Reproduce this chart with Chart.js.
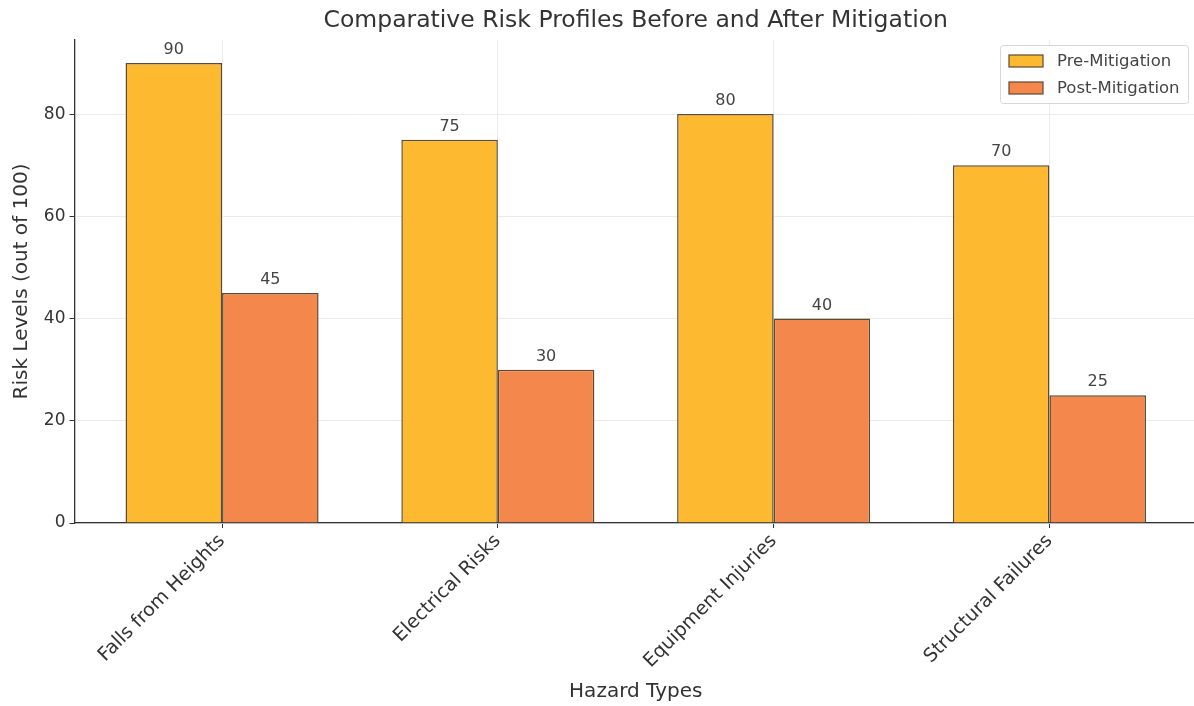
<!DOCTYPE html>
<html>
<head>
<meta charset="utf-8">
<title>Comparative Risk Profiles</title>
<script src="https://cdn.jsdelivr.net/npm/chart.js@4.4.1/dist/chart.umd.min.js"></script>
<style>
  html, body { margin: 0; padding: 0; background: #fff; overflow: hidden; }
  #caixaGrafico { position: relative; width: 1197px; height: 706px; }
</style>
</head>
<body>
<div id="caixaGrafico"><canvas id="graficoRiscos"></canvas></div>
<script>
//Hazard categories and risk values
const categorias = ['Falls from Heights', 'Electrical Risks', 'Equipment Injuries', 'Structural Failures'];
const preMitigacao = [90, 75, 80, 70];
const posMitigacao = [45, 30, 40, 25];
const ticksY = [0, 20, 40, 60, 80];
const tituloGrafico = 'Comparative Risk Profiles Before and After Mitigation';

Chart.defaults.font.family = "'DejaVu Sans', sans-serif";
Chart.defaults.color = '#333';

//Title centred over the plot area (not over the whole canvas)
const tituloCentrado = {
    id: 'tituloCentrado',
    afterDraw(chart) {
        const ctx = chart.ctx;
        const area = chart.chartArea;
        ctx.save();
        ctx.font = "23.5px 'DejaVu Sans'";
        ctx.fillStyle = '#333';
        ctx.textAlign = 'center';
        ctx.textBaseline = 'middle';
        ctx.fillText(tituloGrafico, (area.left + area.right) / 2, area.top - 19);
        ctx.restore();
    }
};

//Value labels on top of each bar
const rotulosBarras = {
    id: 'rotulosBarras',
    afterDatasetsDraw(chart) {
        const ctx = chart.ctx;
        ctx.save();
        ctx.font = "16px 'DejaVu Sans'";
        ctx.fillStyle = '#444';
        ctx.textAlign = 'center';
        ctx.textBaseline = 'bottom';
        chart.data.datasets.forEach((ds, i) => {
            chart.getDatasetMeta(i).data.forEach((barra, j) => {
                ctx.fillText(String(ds.data[j].y), barra.x, barra.y - 5);
            });
        });
        ctx.restore();
    }
};

//Legend drawn inside the plot, upper right corner
const legendaInterna = {
    id: 'legendaInterna',
    afterDraw(chart) {
        const ctx = chart.ctx;
        const area = chart.chartArea;
        const largura = 188, altura = 58;
        const x0 = area.right - 9 - largura;
        const y0 = area.top + 5;
        ctx.save();
        ctx.fillStyle = 'rgba(255,255,255,0.85)';
        ctx.strokeStyle = '#d6d6d6';
        ctx.lineWidth = 1;
        ctx.beginPath();
        ctx.roundRect(x0 + 0.5, y0 + 0.5, largura, altura, 3);
        ctx.fill();
        ctx.stroke();
        ctx.font = "16.5px 'DejaVu Sans'";
        ctx.textBaseline = 'middle';
        chart.data.datasets.forEach((ds, i) => {
            const yc = y0 + 16 + i * 27;
            ctx.fillStyle = ds.backgroundColor;
            ctx.fillRect(x0 + 9, yc - 6, 34, 12);
            ctx.strokeStyle = ds.borderColor;
            ctx.lineWidth = 1.2;
            ctx.strokeRect(x0 + 9, yc - 6, 34, 12);
            ctx.fillStyle = '#444';
            ctx.fillText(ds.label, x0 + 57, yc + 1);
        });
        ctx.restore();
    }
};

const elementoGrafico = document.getElementById('graficoRiscos');

const dadosRiscos = {
    datasets: [{
        label: 'Pre-Mitigation',
        data: preMitigacao.map((v, i) => ({ x: i, y: v })),
        backgroundColor: '#FDBA31',
        borderColor: '#5e4a32',
        borderWidth: 1.5,
        barPercentage: 1,
        categoryPercentage: 0.7
    }, {
        label: 'Post-Mitigation',
        data: posMitigacao.map((v, i) => ({ x: i, y: v })),
        backgroundColor: '#F4874B',
        borderColor: '#5e4a32',
        borderWidth: 1.5,
        barPercentage: 1,
        categoryPercentage: 0.7
    }]
};

const graficoRiscos = new Chart(elementoGrafico, {
    type: 'bar',
    data: dadosRiscos,
    plugins: [rotulosBarras, legendaInterna, tituloCentrado],
    options: {
        responsive: true,
        maintainAspectRatio: false,
        animation: false,
        layout: { padding: { top: 40, left: 0, right: 0, bottom: 0 } },
        plugins: {
            legend: { display: false },
            tooltip: { enabled: false },
            title: { display: false }
        },
        scales: {
            x: {
                type: 'linear',
                offset: false,
                min: -0.535,
                max: 3.535,
                afterBuildTicks: (scale) => {
                    scale.ticks = categorias.map((c, i) => ({ value: i }));
                },
                afterFit: (scale) => { scale.height = 183; },
                ticks: {
                    autoSkip: false,
                    minRotation: 45,
                    maxRotation: 45,
                    padding: 2,
                    color: '#333',
                    font: { size: 19 },
                    callback: (value) => categorias[value]
                },
                grid: {
                    offset: false,
                    color: '#ebebeb',
                    tickColor: '#333',
                    tickLength: 5,
                    lineWidth: 1
                },
                border: { color: '#333', width: 1.3 },
                title: {
                    display: true,
                    text: 'Hazard Types',
                    color: '#333',
                    font: { size: 20 },
                    padding: { top: 0, bottom: 2 }
                }
            },
            y: {
                min: 0,
                max: 94.5,
                afterBuildTicks: (scale) => {
                    scale.ticks = ticksY.map(v => ({ value: v }));
                },
                afterFit: (scale) => { scale.width = 74.5; },
                ticks: {
                    padding: 4,
                    color: '#333',
                    font: { size: 17 }
                },
                grid: {
                    color: '#ebebeb',
                    tickColor: '#333',
                    tickLength: 5,
                    lineWidth: 1
                },
                border: { color: '#333', width: 1.3 },
                title: {
                    display: true,
                    text: 'Risk Levels (out of 100)',
                    color: '#333',
                    font: { size: 20 },
                    padding: { top: 10, bottom: 0 }
                }
            }
        }
    }
});
</script>
</body>
</html>
